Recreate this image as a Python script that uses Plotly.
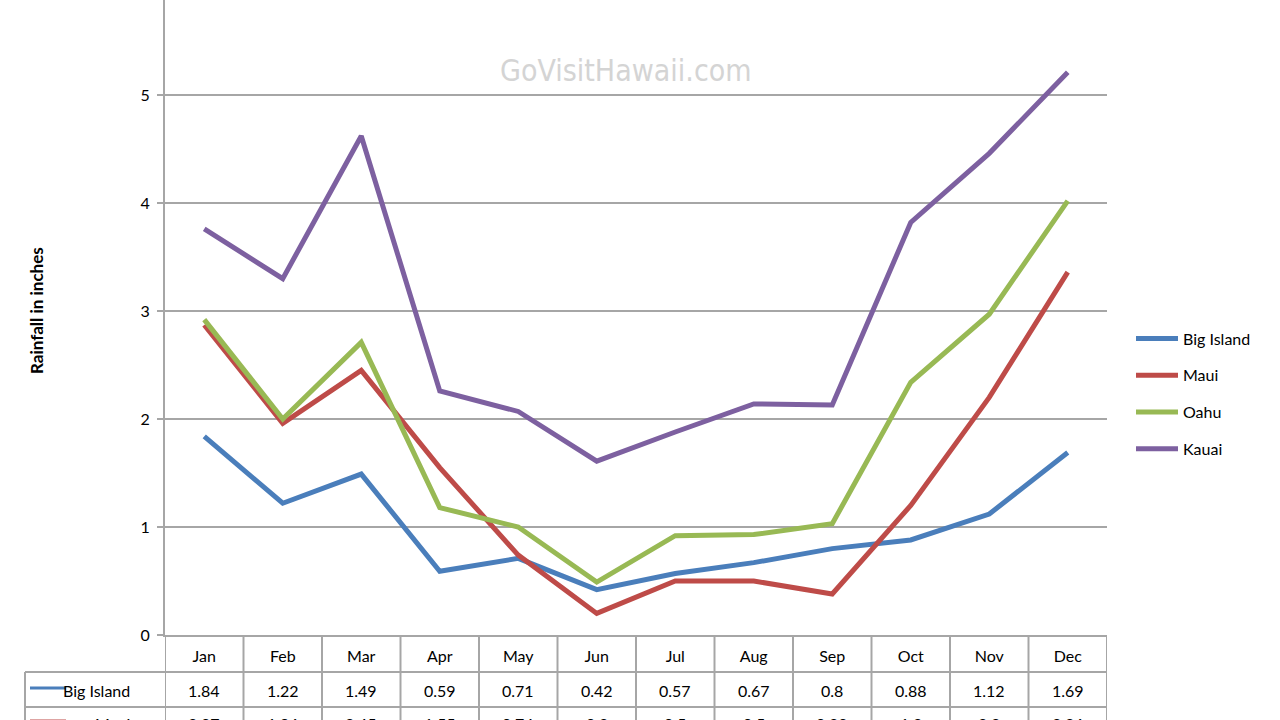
import plotly.graph_objects as go

months = ["Jan", "Feb", "Mar", "Apr", "May", "Jun", "Jul", "Aug", "Sep", "Oct", "Nov", "Dec"]
big_island = [1.84, 1.22, 1.49, 0.59, 0.71, 0.42, 0.57, 0.67, 0.8, 0.88, 1.12, 1.69]
maui = [2.87, 1.96, 2.45, 1.55, 0.74, 0.2, 0.5, 0.5, 0.38, 1.2, 2.2, 3.36]
oahu = [2.92, 2.0, 2.71, 1.18, 1.0, 0.49, 0.92, 0.93, 1.03, 2.34, 2.97, 4.02]
kauai = [3.76, 3.3, 4.62, 2.26, 2.07, 1.61, 1.88, 2.14, 2.13, 3.82, 4.46, 5.21]

series_names = ["Big Island", "Maui", "Oahu", "Kauai"]
series_values = [big_island, maui, oahu, kauai]
colors = ["#4a7ebb", "#be4b48", "#98b954", "#7d60a0"]
table_rows = ["Big Island", "Maui"]
table_values = [big_island, maui]

FONT = "Lato, Open Sans, Liberation Sans, sans-serif"
GRID = "#a6a6a6"

W, H = 1280, 720
L, R, T, B = 165, 173, 0, 85
PW, PH = W - L - R, H - T - B


def py(p):  # pixel y -> paper y
    return (H - B - p) / PH


def px(p):  # pixel x -> paper x
    return (p - L) / PW


fig = go.Figure()
for name, vals, c in zip(series_names, series_values, colors):
    fig.add_trace(go.Scatter(x=months, y=vals, mode="lines", name=name,
                             line=dict(color=c, width=5), legendgroup=name))

annotations = []
shapes = []

# watermark
annotations.append(dict(x=px(626), y=py(70), xref="paper", yref="paper",
                        xanchor="center", yanchor="middle",
                        text="GoVisitHawaii.com", showarrow=False,
                        font=dict(family="Liberation Sans Narrow, DejaVu Sans Condensed, Roboto, sans-serif",
                                  size=30, color="#d4d4d4")))
# y axis title
annotations.append(dict(x=px(37), y=py(311), xref="paper", yref="paper",
                        xanchor="center", yanchor="middle",
                        text="<b>Rainfall in inches</b>", showarrow=False, textangle=-90,
                        font=dict(family=FONT, size=17, color="#000")))

# data table
row_centers = [690, 723]
for r, (rname, vals) in enumerate(zip(table_rows, table_values)):
    yc = row_centers[r]
    annotations.append(dict(x=px(132), y=py(yc), xref="paper", yref="paper",
                            text=rname, showarrow=False, xanchor="right", yanchor="middle",
                            font=dict(family=FONT, size=16, color="#000")))
    shapes.append(dict(type="line", xref="paper", yref="paper",
                       x0=px(30), x1=px(66), y0=py(yc - 2), y1=py(yc - 2),
                       line=dict(color=colors[r], width=3)))
    for m, v in zip(months, vals):
        annotations.append(dict(x=m, y=py(yc), xref="x", yref="paper",
                                xanchor="center", yanchor="middle",
                                text=f"{v:g}", showarrow=False,
                                font=dict(family=FONT, size=16, color="#000")))

# table grid lines
for i in range(len(months) + 1):
    shapes.append(dict(type="line", xref="x", yref="paper", x0=i - 0.5, x1=i - 0.5,
                       y0=py(635), y1=py(760), line=dict(color=GRID, width=2)))
for yy in [672, 707]:
    shapes.append(dict(type="line", xref="paper", yref="paper", x0=px(25), x1=1,
                       y0=py(yy), y1=py(yy), line=dict(color=GRID, width=2)))
shapes.append(dict(type="line", xref="paper", yref="paper", x0=px(25), x1=px(25),
                   y0=py(672), y1=py(760), line=dict(color=GRID, width=2)))

fig.update_layout(
    width=W, height=H,
    margin=dict(l=L, r=R, t=T, b=B),
    paper_bgcolor="white", plot_bgcolor="white",
    font=dict(family=FONT, size=16, color="#000"),
    showlegend=True,
    legend=dict(x=px(1131), y=py(394), xanchor="left", yanchor="middle",
                font=dict(family=FONT, size=16, color="#000"),
                itemwidth=42, tracegroupgap=13, bgcolor="rgba(0,0,0,0)"),
    xaxis=dict(type="category", range=[-0.5, 11.5], showgrid=False, zeroline=False,
               showline=True, linecolor=GRID, linewidth=2, ticks="",
               ticklabelstandoff=6, tickfont=dict(family=FONT, size=16)),
    yaxis=dict(range=[0, 5.88], tickvals=[0, 1, 2, 3, 4, 5], showgrid=True,
               gridcolor=GRID, gridwidth=1.5, zeroline=False, showline=True,
               linecolor=GRID, linewidth=2, ticks="outside", ticklen=6,
               ticklabelstandoff=4,
               tickcolor=GRID, tickwidth=1.5, tickfont=dict(family=FONT, size=16)),
    annotations=annotations, shapes=shapes,
)

fig.write_html("out.html")
